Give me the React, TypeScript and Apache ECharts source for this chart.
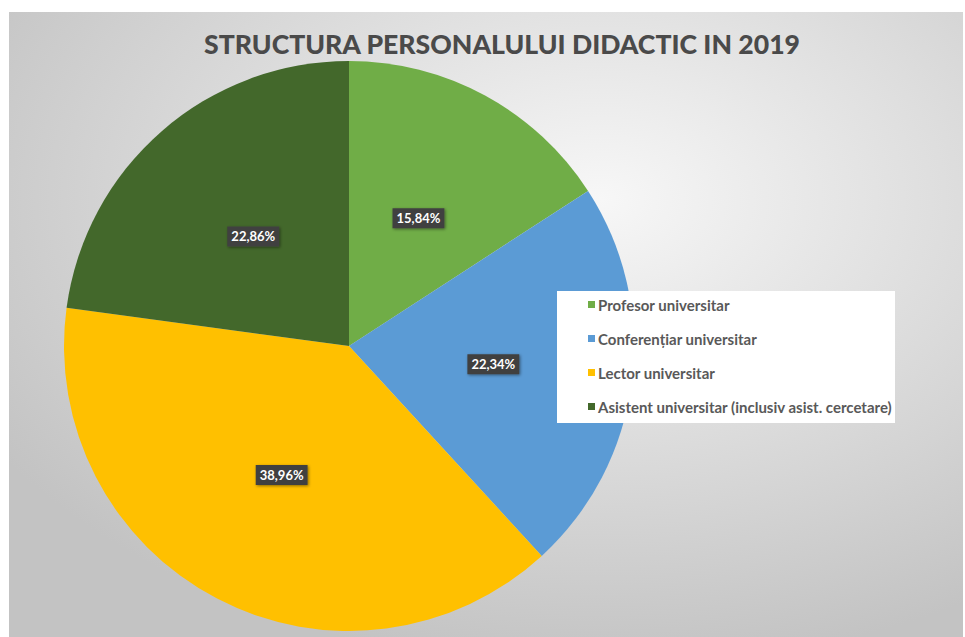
import React, { useEffect, useRef } from "react";
import * as echarts from "echarts";

const title = "STRUCTURA PERSONALULUI DIDACTIC IN 2019";
const categories = [
  "Profesor universitar",
  "Conferențiar universitar",
  "Lector universitar",
  "Asistent universitar (inclusiv asist. cercetare)",
];
const values = [15.84, 22.34, 38.96, 22.86];
const colors = ["#70ad47", "#5b9bd5", "#ffc000", "#43682b"];

export default function App() {
  const ref = useRef<HTMLDivElement>(null);
  useEffect(() => {
    const chart = echarts.init(ref.current!, null, { renderer: "svg" });
    chart.setOption({
      animation: false,
      backgroundColor: "#ffffff",
      title: {
        text: title,
        left: 497,
        top: 25,
        textAlign: "center",
        textStyle: {
          fontFamily: "Lato",
          fontWeight: 900,
          fontSize: 26.6,
          color: "#4a4a4a",
        },
      },
      graphic: [
        {
          type: "rect",
          z: -10,
          silent: true,
          shape: { x: 9, y: 12, width: 954, height: 625 },
          style: {
            fill: {
              type: "radial",
              x: 0.62,
              y: 0.3,
              r: 0.75,
              colorStops: [
                { offset: 0, color: "#f7f7f7" },
                { offset: 1, color: "#c3c3c3" },
              ],
            },
          },
        },
        {
          type: "rect",
          z: 5,
          silent: true,
          shape: { x: 557, y: 291, width: 338, height: 132 },
          style: { fill: "#ffffff" },
        },
      ],
      legend: {
        orient: "vertical",
        left: 583,
        top: 292,
        itemGap: 19,
        icon: "rect",
        itemWidth: 7,
        itemHeight: 7,
        z: 10,
        textStyle: {
          fontFamily: "Lato",
          fontWeight: "bold",
          fontSize: 15,
          color: "#595959",
          padding: [0, 0, 0, -2],
        },
        data: categories,
      },
      series: [
        {
          type: "pie",
          center: [349, 346],
          radius: 285,
          startAngle: 90,
          clockwise: true,
          data: categories.map((name, i) => ({
            name,
            value: values[i],
            itemStyle: { color: colors[i] },
          })),
          label: {
            position: "inside",
            formatter: (p: any) => values[p.dataIndex].toFixed(2).replace(".", ",") + "%",
            fontFamily: "Lato",
            fontWeight: "bold",
            fontSize: 13,
            color: "#ffffff",
            backgroundColor: "#404040",
            padding: [4, 4, 3, 4],
            shadowColor: "rgba(0,0,0,0.45)",
            shadowBlur: 3,
            shadowOffsetX: 1,
            shadowOffsetY: 1,
          },
          labelLine: { show: false },
          itemStyle: { borderWidth: 0 },
        },
      ],
    });
    return () => chart.dispose();
  }, []);
  return (
    <div
      ref={ref}
      style={{ position: "absolute", left: 0, top: 0, width: 965, height: 637 }}
    />
  );
}
